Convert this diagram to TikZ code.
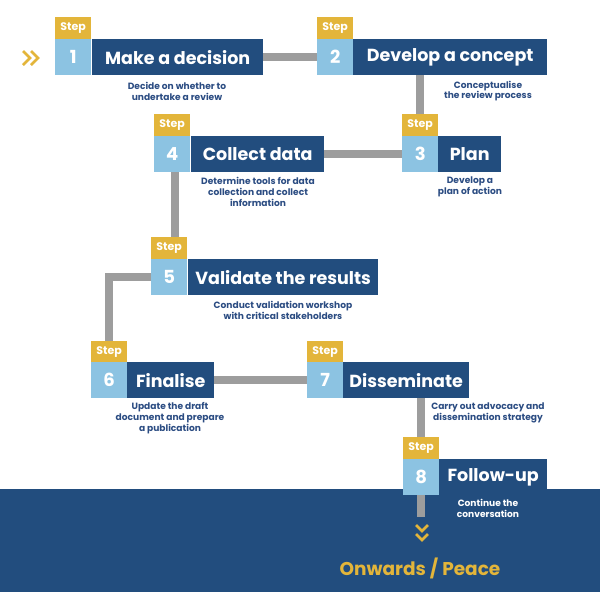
\documentclass[tikz,border=0pt]{standalone}
\usepackage{fontspec}
\setmainfont{Poppins}
\usetikzlibrary{calc}
\definecolor{navy}{HTML}{224D7E}
\definecolor{lblue}{HTML}{8CC3E2}
\definecolor{gold}{HTML}{E3B53A}
\definecolor{cgray}{HTML}{9D9D9D}
\definecolor{dtext}{HTML}{2B4C82}
\begin{document}
\begin{tikzpicture}[x=1pt,y=-1pt,
  steplbl/.style={fill=gold,text=white,font=\bfseries\fontsize{11}{11}\selectfont,minimum width=36pt,minimum height=22pt,anchor=north west,inner sep=0pt},
  numbox/.style={fill=lblue,text=white,font=\bfseries\fontsize{18}{18}\selectfont,minimum width=36pt,minimum height=36pt,anchor=north west,inner sep=0pt},
  titlebox/.style={fill=navy,text=white,font=\bfseries\fontsize{17.5}{17.5}\selectfont,minimum height=36pt,anchor=north west,inner sep=0pt},
  desc/.style={text=dtext,align=center,font=\bfseries\fontsize{9.1}{10.8}\selectfont,inner sep=0pt},
  conn/.style={draw=cgray,line width=8pt},
  chev/.style={draw=gold,line width=2.6pt,line join=miter}]
\useasboundingbox (0,0) rectangle (600,592);
\fill[navy] (0,489) rectangle (600,592);
% step 1
\node[steplbl] (s1) at (55,17) {Step};
\node[numbox] (n1) at (55,39) {1};
\node[titlebox,minimum width=171pt] (t1) at (92,39) {Make a decision};
% step 2
\node[steplbl] (s2) at (317,17) {Step};
\node[numbox] (n2) at (317,39) {2};
\node[titlebox,minimum width=194pt] (t2) at (353,39) {Develop a concept};
% step 3
\node[steplbl] (s3) at (402,114) {Step};
\node[numbox] (n3) at (402,136) {3};
\node[titlebox,minimum width=63pt] (t3) at (438,136) {Plan};
% step 4
\node[steplbl] (s4) at (154,114) {Step};
\node[numbox] (n4) at (154,136) {4};
\node[titlebox,minimum width=133pt] (t4) at (191,136) {Collect data};
% step 5
\node[steplbl] (s5) at (151,237) {Step};
\node[numbox] (n5) at (151,259) {5};
\node[titlebox,minimum width=190pt] (t5) at (188,259) {Validate the results};
% step 6
\node[steplbl] (s6) at (91,341) {Step};
\node[numbox] (n6) at (91,362) {6};
\node[titlebox,minimum width=87pt] (t6) at (127,362) {Finalise};
% step 7
\node[steplbl] (s7) at (307,341) {Step};
\node[numbox] (n7) at (307,362) {7};
\node[titlebox,minimum width=126pt] (t7) at (343,362) {Disseminate};
% step 8
\node[steplbl] (s8) at (403,437) {Step};
\node[numbox] (n8) at (403,459) {8};
\node[titlebox,minimum width=108pt] (t8) at (439,459) {Follow-up};
% connectors
\draw[conn] (t1.east) -- (n2.west);
\draw[conn] (s3.north) -- (s3.north |- t2.south);
\draw[conn] (n3.west) -- (t4.east);
\draw[conn] ([xshift=3pt]n4.south) -- ([xshift=3pt]n4.south |- s5.north);
\draw[conn] (n5.west) -| (s6.north);
\draw[conn] (t6.east) -- (n7.west);
\draw[conn] (s8.north) -- (s8.north |- t7.south);
\coordinate (e8) at ($(n8.south)+(0,22)$);
\draw[conn] (n8.south) -- (e8);
% descriptions
\node[desc] (d1) at (177,91) {Decide on whether to\\undertake a review};
\node[desc] (d2) at (488,91) {Conceptualise\\the review process};
\node[desc] (d3) at (470,187) {Develop a\\plan of action};
\node[desc] (d4) at (258,192) {Determine tools for data\\collection and collect\\information};
\node[desc] (d5) at (283,310) {Conduct validation workshop\\with critical stakeholders};
\node[desc] (d6) at (170,418) {Update the draft\\document and prepare\\a publication};
\node[desc] (d7) at (488,413) {Carry out advocacy and\\dissemination strategy};
\node[desc,text=white] (d8) at (488,508) {Continue the\\conversation};
\node[text=gold,font=\bfseries\fontsize{18.5}{18.5}\selectfont,inner sep=0pt] (end) at (420,568) {Onwards / Peace};
% chevrons
\draw[chev] (23,51) -- (30,58) -- (23,65);
\draw[chev] (31,51) -- (38,58) -- (31,65);
\draw[chev] (416,525) -- (422,531) -- (428,525);
\draw[chev] (416,534) -- (422,540) -- (428,534);
\end{tikzpicture}
\end{document}
